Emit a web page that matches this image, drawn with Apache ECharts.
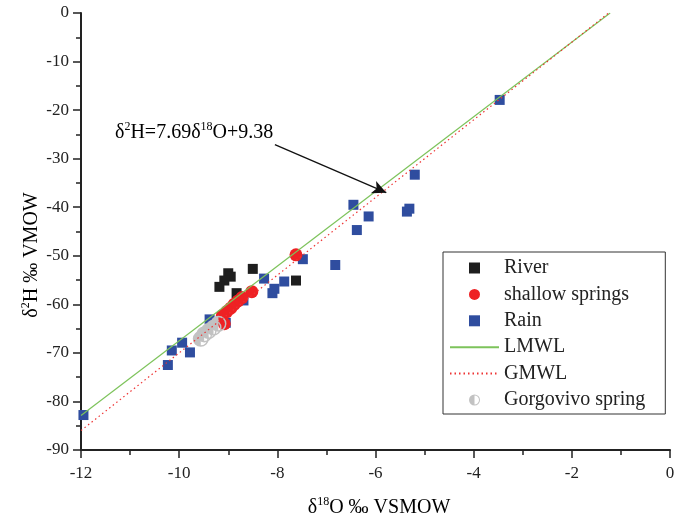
<!DOCTYPE html>
<html>
<head>
<meta charset="utf-8">
<script src="https://cdn.jsdelivr.net/npm/echarts@6/dist/echarts.min.js"></script>
<style>
  html, body { margin: 0; padding: 0; background: #fff; }
  #chart { width: 678px; height: 522px; }
</style>
</head>
<body>
<div id="chart"></div>
<script>
// δ18O (x), δ2H (y)
const river = [
  [-9.0, -53.6], [-8.95, -54.3], [-9.08, -55.1], [-9.18, -56.4],
  [-8.5, -52.7], [-7.62, -55.1], [-8.83, -57.7]
];
const shallowSprings = [
  [-7.62, -49.8], [-8.52, -57.4], [-8.72, -58.6], [-8.8, -59.3],
  [-8.88, -60.0], [-8.95, -60.8], [-9.03, -61.5], [-9.12, -62.3],
  [-9.08, -64.0]
];
const rain = [
  [-11.95, -82.8], [-10.23, -72.5], [-10.15, -69.5], [-9.94, -67.9],
  [-9.78, -69.9], [-9.38, -63.1], [-9.05, -63.8], [-8.69, -59.2],
  [-8.27, -54.7], [-8.1, -57.7], [-8.06, -56.8], [-7.86, -55.3],
  [-7.48, -50.7], [-6.82, -51.9], [-6.45, -39.5], [-6.38, -44.7],
  [-6.14, -41.9], [-5.36, -40.9], [-5.31, -40.3], [-5.2, -33.3],
  [-3.47, -17.9]
];
const gorgovivo = [
  [-9.56, -67.1], [-9.49, -66.2], [-9.4, -65.5], [-9.3, -64.8],
  [-9.2, -64.0]
];
// regression line end points
const lmwl = [[-12, -82.9], [-1.22, 0]];
const gmwl = [[-12, -86], [-1.25, 0]];
// arrow from the equation label to the LMWL
const arrowFrom = [-8.05, -27.1];
const arrowTo = [-5.78, -37.0];

const FONT = "Liberation Serif";
const halfCircle =
  "path://M0,-10A10,10,0,1,1,0,10A10,10,0,1,1,0,-10ZM0,-8.2L0,8.2A8.2,8.2,0,0,0,0,-8.2Z";
const square = "path://M0,0L10,0L10,10L0,10Z";

const chart = echarts.init(document.getElementById("chart"));

const richText = {
  a: { fontFamily: FONT, fontSize: 20, color: "#222", lineHeight: 24 },
  s: { fontFamily: FONT, fontSize: 12, color: "#222", lineHeight: 13, verticalAlign: "top" },
};

const option = {
  animation: false,
  backgroundColor: "#fff",
  grid: { left: 81, right: 8, top: 13, bottom: 72 },
  xAxis: {
    type: "value",
    min: -12,
    max: 0,
    interval: 2,
    axisLine: { onZero: false, lineStyle: { color: "#222", width: 2 } },
    axisTick: { inside: false, length: 8, lineStyle: { color: "#222", width: 1.5 } },
    minorTick: { show: true, splitNumber: 2, length: 5, lineStyle: { color: "#222", width: 1.5 } },
    axisLabel: { color: "#222", fontFamily: FONT, fontSize: 17, margin: 15 },
    splitLine: { show: false },
  },
  yAxis: {
    type: "value",
    min: -90,
    max: 0,
    interval: 10,
    axisLine: { onZero: false, lineStyle: { color: "#222", width: 2 } },
    axisTick: { inside: false, length: 8, lineStyle: { color: "#222", width: 1.5 } },
    minorTick: { show: true, splitNumber: 2, length: 5, lineStyle: { color: "#222", width: 1.5 } },
    axisLabel: { color: "#222", fontFamily: FONT, fontSize: 17, margin: 12 },
    splitLine: { show: false },
  },
  legend: {
    orient: "vertical",
    left: 443,
    top: 252,
    padding: [5, 20, 3, 6],
    borderColor: "#333",
    borderWidth: 1,
    itemWidth: 49,
    itemHeight: 11,
    itemGap: 4.4,
    symbolKeepAspect: true,
    textStyle: { fontFamily: FONT, fontSize: 20, color: "#222", lineHeight: 22 },
    data: [
      { name: "River", icon: square },
      { name: "shallow springs", icon: "circle" },
      { name: "Rain", icon: square },
      { name: "LMWL", itemStyle: { opacity: 0 } },
      { name: "GMWL", itemStyle: { opacity: 0 } },
      { name: "Gorgovivo spring", icon: halfCircle },
    ],
  },
  series: [
    {
      name: "Rain",
      type: "scatter",
      symbol: "rect",
      symbolSize: 10,
      itemStyle: { color: "#2f4d9f", opacity: 1 },
      data: rain,
    },
    {
      name: "River",
      type: "scatter",
      symbol: "rect",
      symbolSize: 10,
      itemStyle: { color: "#1e1e1e", opacity: 1 },
      data: river,
    },
    {
      name: "shallow springs",
      type: "scatter",
      symbol: "circle",
      symbolSize: 13,
      itemStyle: { color: "#ee2124", opacity: 1 },
      data: shallowSprings,
    },
    {
      name: "Gorgovivo spring",
      type: "scatter",
      symbol: halfCircle,
      symbolSize: 16,
      itemStyle: { color: "#c2c2c2", opacity: 1 },
      data: gorgovivo,
    },
    {
      name: "LMWL",
      type: "line",
      symbol: "none",
      lineStyle: { color: "#7dc35b", width: 1.2 },
      itemStyle: { color: "#7dc35b" },
      data: lmwl,
      markLine: {
        silent: true,
        symbol: ["none", "arrow"],
        symbolSize: [10, 14],
        label: { show: false },
        lineStyle: { color: "#111", width: 1.3, type: "solid" },
        itemStyle: { color: "#111" },
        data: [[{ coord: arrowFrom }, { coord: arrowTo }]],
      },
    },
    {
      name: "GMWL",
      type: "line",
      symbol: "none",
      lineStyle: { color: "#ee3333", width: 1.2, type: [1.5, 3] },
      itemStyle: { color: "#ee3333" },
      data: gmwl,
    },
  ],
  graphic: [
    {
      type: "text",
      left: 115,
      top: 121,
      style: { text: "{a|δ}{s|2}{a|H=7.69δ}{s|18}{a|O+9.38}", rich: richText },
    },
    {
      type: "text",
      x: 379,
      y: 508,
      style: {
        text: "{a|δ}{s|18}{a|O ‰ VSMOW}",
        align: "center",
        verticalAlign: "middle",
        rich: richText,
      },
    },
    {
      type: "text",
      x: 32,
      y: 255,
      rotation: Math.PI / 2,
      style: {
        text: "{a|δ}{s|2}{a|H ‰ VMOW}",
        align: "center",
        verticalAlign: "middle",
        rich: richText,
      },
    },
  ],
};

chart.setOption(option);
</script>
</body>
</html>
